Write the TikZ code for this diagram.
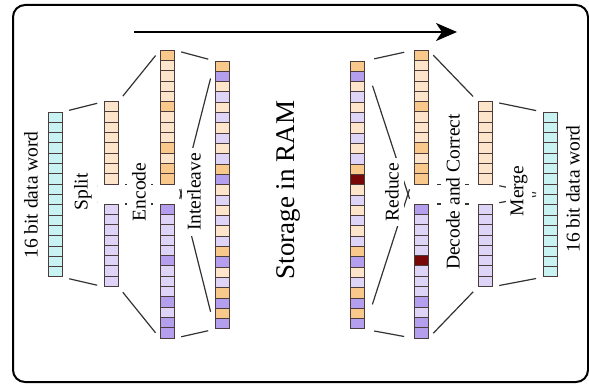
\documentclass[tikz,border=0pt]{standalone}
\usepackage{fontspec}
\setmainfont{Liberation Serif}
\usetikzlibrary{arrows.meta}
\definecolor{OD}{HTML}{F9C98B}
\definecolor{OP}{HTML}{FDE5CB}
\definecolor{PD}{HTML}{B49EEE}
\definecolor{PP}{HTML}{DDD4F8}
\definecolor{CY}{HTML}{C8F3F2}
\definecolor{RD}{HTML}{780808}
\definecolor{cellline}{HTML}{4B3B3B}
\definecolor{conn}{HTML}{333333}
\tikzset{
  cell/.style={draw=cellline, line width=0.8pt},
  link/.style={draw=conn, line width=1.2pt, shorten <=7pt, shorten >=7pt},
  lbl/.style={rotate=90, fill=white, inner sep=5pt, font=\fontsize{19.5}{20}\selectfont},
  side/.style={rotate=90, inner sep=1pt, font=\fontsize{19.5}{20}\selectfont},
  frame/.style={draw=black, line width=2pt, rounded corners=12pt, inner sep=0pt}
}
\newcommand\cellcol[5]{%
  \node[inner sep=0pt, minimum width=14pt, minimum height={#4*10.3pt}, anchor=north west] (#1) at (#2,#3) {};
  \foreach \c [count=\i from 0] in {#5} {
    \filldraw[cell, fill=\c] (#2,{#3+\i*10.3}) rectangle ++(14,10.3);
  }
}
\begin{document}
\begin{tikzpicture}[x=1pt,y=-1pt]
\useasboundingbox (0,0) rectangle (589,385);
\node[frame, minimum width=575pt, minimum height=377pt, anchor=north west] (fr) at (12,4) {};
% columns
\cellcol{c1}{48}{112}{16}{CY,CY,CY,CY,CY,CY,CY,CY,CY,CY,CY,CY,CY,CY,CY,CY}
\cellcol{c2o}{104}{101.6}{8}{OP,OP,OP,OP,OP,OP,OP,OP}
\cellcol{c2p}{104}{204}{8}{PP,PP,PP,PP,PP,PP,PP,PP}
\cellcol{c3o}{160}{50.1}{13}{OD,OP,OP,OP,OP,OD,OP,OP,OP,OD,OP,OD,OD}
\cellcol{c3p}{160}{204}{13}{PD,PP,PP,PP,PP,PD,PP,PP,PP,PD,PP,PD,PD}
\cellcol{c4}{215}{61}{26}{OD,PD,OP,PP,OP,PP,OP,PP,OP,PP,OD,PD,OP,PP,OP,PP,OP,PP,OD,PD,OP,PP,OD,PD,OD,PD}
\cellcol{c5}{350}{61}{26}{OD,PD,OP,PP,OP,PP,OP,PP,OP,PP,OD,RD,OP,PP,OP,PP,OP,PP,OD,PD,OP,PP,OD,PD,OD,PD}
\cellcol{c6o}{414}{50.1}{13}{OD,OP,OP,OP,OP,OD,OP,OP,OP,OD,OP,OD,OD}
\cellcol{c6p}{414}{204}{13}{PD,PP,PP,PP,PP,RD,PP,PP,PP,PD,PP,PD,PD}
\cellcol{c7o}{478}{101.6}{8}{OP,OP,OP,OP,OP,OP,OP,OP}
\cellcol{c7p}{478}{204}{8}{PP,PP,PP,PP,PP,PP,PP,PP}
\cellcol{c8}{543}{112}{16}{CY,CY,CY,CY,CY,CY,CY,CY,CY,CY,CY,CY,CY,CY,CY,CY}
% outer funnel lines
\draw[link] (c1.north east) -- (c2o.north west);
\draw[link] (c1.south east) -- (c2p.south west);
\draw[link] (c2o.north east) -- (c3o.north west);
\draw[link] (c2p.south east) -- (c3p.south west);
\draw[link] (c3o.north east) -- (c4.north west);
\draw[link] (c3p.south east) -- (c4.south west);
\draw[link, shorten <=10pt, shorten >=10pt] (c5.north east) -- (c6o.north west);
\draw[link, shorten <=10pt, shorten >=10pt] (c5.south east) -- (c6p.south west);
\draw[link] (c6o.north east) -- (c7o.north west);
\draw[link] (c6p.south east) -- (c7p.south west);
\draw[link] (c7o.north east) -- (c8.north west);
\draw[link] (c7p.south east) -- (c8.south west);
% inner lines (mostly hidden behind labels)
\coordinate (ilv) at (181,194);
\coordinate (rdc) at (408,194);
\draw[link] (c1.east) -- (c2o.south west);
\draw[link] (c1.east) -- (c2p.north west);
\draw[link] (c2o.south east) -- (c3o.south west);
\draw[link] (c2p.north east) -- (c3p.north west);
\draw[link, shorten <=18pt, shorten >=-5pt] (c4.north west) -- (ilv);
\draw[link, shorten <=18pt, shorten >=-5pt] (c4.south west) -- (ilv);
\draw[link, shorten <=26pt, shorten >=-5pt] (c5.north east) -- (rdc);
\draw[link, shorten <=26pt, shorten >=-5pt] (c5.south east) -- (rdc);
\draw[link, shorten <=9pt, shorten >=9pt] (c6o.south east) -- (c7o.south west);
\draw[link, shorten <=9pt, shorten >=9pt] (c6p.north east) -- (c7p.north west);
\draw[link] (c7o.south east) -- (c8.west);
\draw[link] (c7p.north east) -- (c8.west);
% labels
\node[side] (lw) at (31,195) {16 bit data word};
\node[side] (rw) at (573,189) {16 bit data word};
\node[lbl] (lsplit) at (83,192) {Split};
\node[lbl] (lenc) at (139,192) {Encode};
\node[lbl] (lint) at (194,192) {Interleave};
\node[font=\fontsize{27}{28}\selectfont, rotate=90, inner sep=0pt] (ram) at (288,190) {Storage in RAM};
\node[lbl] (lred) at (392,192) {Reduce};
\node[lbl] (ldec) at (453,192) {Decode and Correct};
\node[lbl] (lmer) at (519,191) {Merge};
% process arrow
\coordinate (as) at (134,32);
\coordinate (ae) at (457,32);
\draw[line width=2pt, -{Stealth[length=21pt,width=18pt,inset=6pt]}] (as) -- (ae);
\end{tikzpicture}
\end{document}
